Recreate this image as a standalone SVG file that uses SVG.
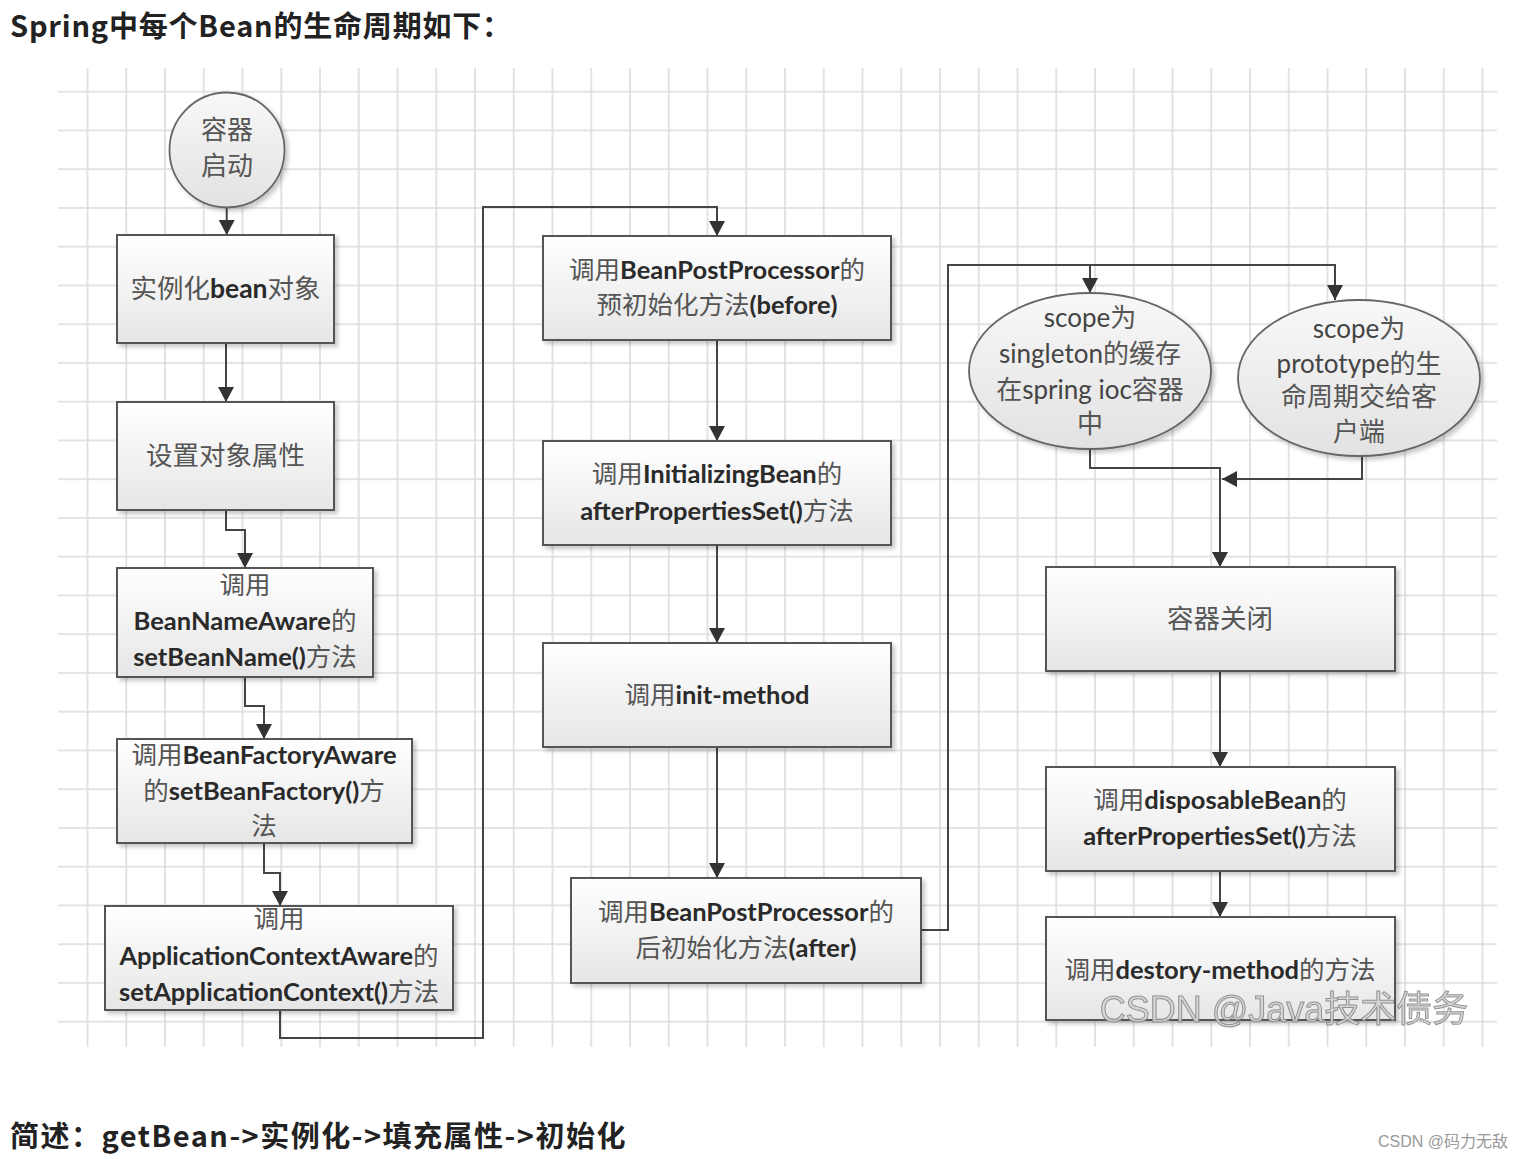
<svg xmlns="http://www.w3.org/2000/svg" width="1525" height="1159" viewBox="0 0 1525 1159">
<style>
.box{fill:url(#boxg);stroke:#555;stroke-width:2;filter:url(#sh)}
.ell{fill:url(#ellg);stroke:#666;stroke-width:1.8;filter:url(#sh)}
.t{font-family:Lato,"Noto Sans CJK SC",sans-serif;font-size:25.5px;text-anchor:middle;fill:#555}
.t .l{font-weight:bold;fill:#2a2a2a}
.t .n{fill:#444}
.c{fill:none;stroke:#444;stroke-width:2}
.a{marker-end:url(#arr)}
.h{font-family:"Noto Sans CJK SC",sans-serif;font-weight:bold;font-size:29px;fill:#222}
</style>
<defs>
<pattern id="grid" patternUnits="userSpaceOnUse" x="86.5" y="90.7" width="38.75" height="38.75">
<path d="M1 0V38.75M0 1H38.75" stroke="#dcdcdc" stroke-width="1.6" fill="none"/>
</pattern>
<linearGradient id="boxg" x1="0" y1="0" x2="0" y2="1">
<stop offset="0" stop-color="#ffffff"/><stop offset="1" stop-color="#e6e6e6"/>
</linearGradient>
<linearGradient id="ellg" x1="0" y1="0" x2="0" y2="1">
<stop offset="0" stop-color="#f8f8f8"/><stop offset="1" stop-color="#e2e2e2"/>
</linearGradient>
<filter id="sh" x="-10%" y="-10%" width="130%" height="130%">
<feDropShadow dx="3" dy="3" stdDeviation="2" flood-color="#000" flood-opacity="0.22"/>
</filter>
<marker id="arr" markerUnits="userSpaceOnUse" markerWidth="16" markerHeight="16" refX="15" refY="8" orient="auto" viewBox="0 0 16 16">
<path d="M0 0L15 8L0 16z" fill="#333"/>
</marker>
</defs>
<rect width="1525" height="1159" fill="#fff"/>
<text class="h" x="10" y="37" letter-spacing="0.8">Spring中每个Bean的生命周期如下：</text>
<rect x="58" y="68" width="1439" height="979" fill="url(#grid)"/>

<g id="connectors">
<path class="c a" d="M226.7 208V235"/>
<path class="c a" d="M226 343V402"/>
<path class="c a" d="M226 510V530H245V568"/>
<path class="c a" d="M245 677V706H264V739"/>
<path class="c a" d="M264 843V873H280V906"/>
<path class="c a" d="M280 1010V1038H483V207H717V236"/>
<path class="c a" d="M717 340V441"/>
<path class="c a" d="M717 545V643"/>
<path class="c a" d="M717 747V878"/>
<path class="c a" d="M921 930H948V265H1335V300"/>
<path class="c a" d="M1090 265V293"/>
<path class="c a" d="M1090 449V468H1220V567"/>
<path class="c a" d="M1362 456V479H1222"/>
<path class="c a" d="M1220 671V767"/>
<path class="c a" d="M1220 871V917"/>
</g>

<g id="start">
<circle class="ell" cx="227" cy="150" r="57.5"/>
<text class="t" x="227" y="139" style="font-size:26px">容器</text>
<text class="t" x="227" y="175" style="font-size:26px">启动</text>
</g>
<g id="instantiate">
<rect class="box" x="117" y="235" width="217" height="108"/>
<text class="t" x="225.5" y="298" style="font-size:26.5px">实例化<tspan class="l">bean</tspan>对象</text>
</g>
<g id="setProps">
<rect class="box" x="117" y="402" width="217" height="108"/>
<text class="t" x="225.5" y="465" style="font-size:26.5px">设置对象属性</text>
</g>
<g id="beanNameAware">
<rect class="box" x="117" y="568" width="256" height="109"/>
<text class="t" x="245" y="594">调用</text>
<text class="t" x="245" y="630"><tspan class="l">BeanNameAware</tspan>的</text>
<text class="t" x="245" y="666"><tspan class="l">setBeanName()</tspan>方法</text>
</g>
<g id="beanFactoryAware">
<rect class="box" x="117" y="739" width="295" height="104"/>
<text class="t" x="264" y="764">调用<tspan class="l">BeanFactoryAware</tspan></text>
<text class="t" x="264" y="800">的<tspan class="l">setBeanFactory()</tspan>方</text>
<text class="t" x="264" y="835">法</text>
</g>
<g id="appContextAware">
<rect class="box" x="105" y="906" width="348" height="104"/>
<text class="t" x="279" y="928">调用</text>
<text class="t" x="279" y="965"><tspan class="l">ApplicationContextAware</tspan>的</text>
<text class="t" x="279" y="1001"><tspan class="l">setApplicationContext()</tspan>方法</text>
</g>
<g id="bppBefore">
<rect class="box" x="543" y="236" width="348" height="104"/>
<text class="t" x="717" y="279">调用<tspan class="l">BeanPostProcessor</tspan>的</text>
<text class="t" x="717" y="314">预初始化方法<tspan class="l">(before)</tspan></text>
</g>
<g id="initializingBean">
<rect class="box" x="543" y="441" width="348" height="104"/>
<text class="t" x="717" y="483">调用<tspan class="l">InitializingBean</tspan>的</text>
<text class="t" x="717" y="520"><tspan class="l">afterPropertiesSet()</tspan>方法</text>
</g>
<g id="initMethod">
<rect class="box" x="543" y="643" width="348" height="104"/>
<text class="t" x="717" y="704">调用<tspan class="l">init-method</tspan></text>
</g>
<g id="bppAfter">
<rect class="box" x="571" y="878" width="350" height="105"/>
<text class="t" x="746" y="921">调用<tspan class="l">BeanPostProcessor</tspan>的</text>
<text class="t" x="746" y="957">后初始化方法<tspan class="l">(after)</tspan></text>
</g>
<g id="singleton">
<ellipse class="ell" cx="1090" cy="371" rx="121" ry="78"/>
<text class="t" x="1090" y="327" style="font-size:26px"><tspan class="n">scope</tspan>为</text>
<text class="t" x="1090" y="363" style="font-size:26px"><tspan class="n">singleton</tspan>的缓存</text>
<text class="t" x="1090" y="399" style="font-size:26px">在<tspan class="n">spring ioc</tspan>容器</text>
<text class="t" x="1090" y="433" style="font-size:26px">中</text>
</g>
<g id="prototype">
<ellipse class="ell" cx="1359" cy="378" rx="121" ry="78"/>
<text class="t" x="1359" y="338" style="font-size:26px"><tspan class="n">scope</tspan>为</text>
<text class="t" x="1359" y="373" style="font-size:26px"><tspan class="n">prototype</tspan>的生</text>
<text class="t" x="1359" y="406" style="font-size:26px">命周期交给客</text>
<text class="t" x="1359" y="441" style="font-size:26px">户端</text>
</g>
<g id="close">
<rect class="box" x="1046" y="567" width="349" height="104"/>
<text class="t" x="1220" y="628" style="font-size:26.5px">容器关闭</text>
</g>
<g id="disposable">
<rect class="box" x="1046" y="767" width="349" height="104"/>
<text class="t" x="1220" y="809">调用<tspan class="l">disposableBean</tspan>的</text>
<text class="t" x="1220" y="845"><tspan class="l">afterPropertiesSet()</tspan>方法</text>
</g>
<g id="destroy">
<rect class="box" x="1046" y="917" width="349" height="103"/>
<text class="t" x="1220" y="979">调用<tspan class="l">destory-method</tspan>的方法</text>
</g>

<text x="1284" y="1022" font-family="'Liberation Sans','Noto Sans CJK SC',sans-serif" font-size="36" text-anchor="middle" fill="#d4d4d4" stroke="#8a8a8a" stroke-width="1" opacity="0.9">CSDN @Java技术债务</text>
<text class="h" x="10" y="1147" letter-spacing="1.5">简述：getBean-&gt;实例化-&gt;填充属性-&gt;初始化</text>
<text x="1508" y="1147" font-family="'Liberation Sans','Noto Sans CJK SC',sans-serif" font-size="16" text-anchor="end" fill="#999">CSDN @码力无敌</text>
</svg>
